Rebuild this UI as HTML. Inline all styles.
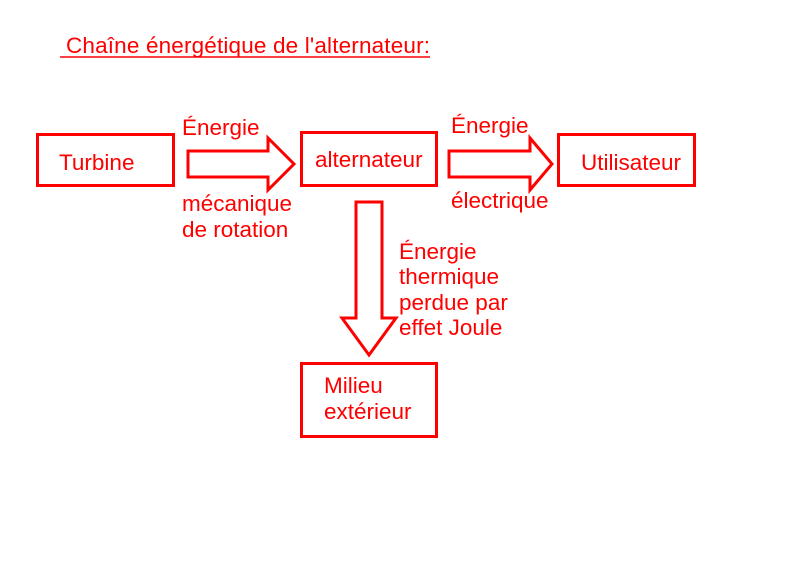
<!DOCTYPE html>
<html><head><style>
body{margin:0;width:800px;height:566px;background:#fff;overflow:hidden}
svg text{font-family:"Liberation Sans",sans-serif;fill:#f00;font-size:22.5px}
</style></head><body>
<svg width="800" height="566" viewBox="0 0 800 566">
<g fill="none" stroke="#f00" stroke-width="3">
<rect x="37.5" y="134.5" width="136" height="51"/>
<rect x="301.5" y="132.5" width="135" height="53"/>
<rect x="558.5" y="134.5" width="136" height="51"/>
<rect x="301.5" y="363.5" width="135" height="73"/>
<polygon points="188,151 268,151 268,138 294,164 268,190 268,177 188,177"/>
<polygon points="449,151 530,151 530,138 552,164 530,190 530,177 449,177"/>
<polygon points="356,202 382,202 382,318 396,318 369,355 342,318 356,318"/>
</g>
<text x="66" y="53" textLength="364" lengthAdjust="spacing">Chaîne énergétique de l'alternateur:</text>
<line x1="60" y1="57" x2="430" y2="57" stroke="#f00" stroke-width="1.5"/>
<text x="59" y="170">Turbine</text>
<text x="315" y="167">alternateur</text>
<text x="581" y="170">Utilisateur</text>
<text x="324" y="393">Milieu</text>
<text x="324" y="419">extérieur</text>
<text x="182" y="135">Énergie</text>
<text x="182" y="211">mécanique</text>
<text x="182" y="237">de rotation</text>
<text x="451" y="133">Énergie</text>
<text x="451" y="208">électrique</text>
<text x="399" y="259">Énergie</text>
<text x="399" y="284">thermique</text>
<text x="399" y="310">perdue par</text>
<text x="399" y="335">effet Joule</text>
</svg>
</body></html>
